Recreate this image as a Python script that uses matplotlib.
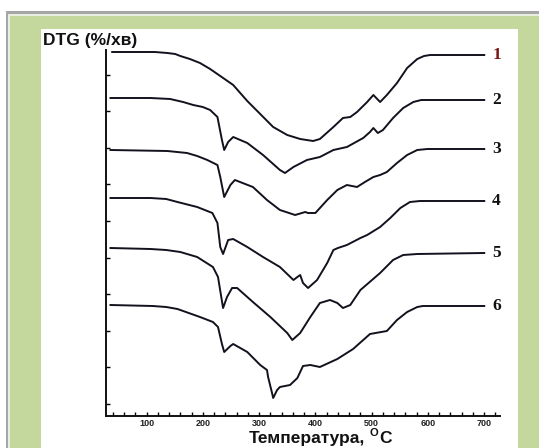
import numpy as np
import matplotlib
matplotlib.use("Agg")
import matplotlib.pyplot as plt
from matplotlib.patches import Rectangle

# temperatures (deg C) and DTG values (arbitrary units, curves stacked)
t1 = [39, 115, 137, 151, 160, 177, 195, 213, 231, 254, 279, 302, 325, 350, 373, 396, 408, 432,
      449, 462, 474, 492, 503, 515, 527, 545, 563, 581, 593, 604, 700]
dtg1 = [364, 364, 363, 362, 360, 357, 353, 347, 340, 331, 315, 302, 289, 281, 277, 275, 277,
        289, 298, 299, 304, 314, 321, 314, 321, 333, 348, 357, 360, 361, 361]

t2 = [36, 107, 142, 165, 183, 200, 213, 226, 234, 238, 245, 254, 279, 307, 337, 346, 361, 385,
      408, 432, 456, 485, 497, 503, 511, 520, 538, 556, 574, 588, 599, 700]
dtg2 = [318, 318, 317, 314, 311, 309, 306, 299, 276, 266, 274, 279, 273, 261, 246, 243, 249,
        256, 259, 266, 269, 278, 284, 288, 283, 286, 298, 308, 314, 316, 316, 316]

t3 = [36, 137, 172, 190, 208, 226, 231, 238, 249, 257, 289, 314, 337, 364, 382, 387, 400, 421,
      439, 456, 474, 488, 503, 515, 527, 545, 563, 581, 599, 700]
dtg3 = [266, 265, 263, 260, 256, 251, 239, 219, 231, 236, 229, 216, 206, 201, 204, 203, 203,
        216, 226, 231, 229, 234, 239, 241, 244, 253, 261, 266, 267, 267]

t4 = [36, 107, 135, 155, 190, 217, 226, 231, 236, 245, 254, 279, 307, 337, 361, 368, 373, 378,
      387, 403, 421, 432, 440, 456, 480, 492, 515, 533, 551, 568, 586, 700]
dtg4 = [218, 218, 217, 214, 209, 203, 193, 169, 162, 176, 177, 169, 159, 149, 136, 139, 141,
        133, 128, 136, 153, 166, 168, 171, 178, 181, 189, 198, 208, 214, 215, 215]

t5 = [36, 107, 135, 160, 190, 218, 227, 236, 243, 252, 261, 289, 320, 350, 359, 373, 391, 408,
      426, 439, 449, 462, 480, 515, 538, 556, 581, 700]
dtg5 = [168, 167, 166, 164, 159, 149, 139, 108, 119, 128, 128, 114, 99, 83, 76, 83, 99, 113,
        116, 113, 108, 111, 126, 143, 156, 161, 162, 163]

t6 = [36, 111, 135, 155, 195, 218, 227, 234, 238, 249, 254, 279, 302, 314, 316, 323, 325, 332,
      337, 355, 368, 378, 391, 408, 439, 467, 497, 527, 545, 563, 581, 591, 700]
dtg6 = [111, 110, 109, 107, 99, 94, 89, 72, 64, 70, 72, 64, 51, 46, 39, 23, 18, 26,
        29, 31, 38, 50, 51, 49, 57, 67, 82, 85, 96, 104, 109, 110, 110]

temps = [t1, t2, t3, t4, t5, t6]
curves = [dtg1, dtg2, dtg3, dtg4, dtg5, dtg6]
labels = ["1", "2", "3", "4", "5", "6"]
label_colors = ["#7a1414", "#111111", "#111111", "#111111", "#111111", "#111111"]

x_major = [100, 200, 300, 400, 500, 600, 700]

W, H = 539, 448
fig = plt.figure(figsize=(W / 100, H / 100), dpi=100)
fig.patch.set_facecolor("white")

# frame decoration: grey border, green band, white panel
fig.patches.append(Rectangle((6 / W, 0), (W - 6) / W, 1 - 11 / H, transform=fig.transFigure,
                             facecolor="#a6a6a6", edgecolor="none", zorder=-3))
fig.patches.append(Rectangle((8 / W, 0), (W - 8) / W, 1 - 14 / H, transform=fig.transFigure,
                             facecolor="#e8efe0", edgecolor="none", zorder=-2.5))
fig.patches.append(Rectangle((10 / W, 0), (W - 10) / W, 1 - 16 / H, transform=fig.transFigure,
                             facecolor="#c4d79d", edgecolor="none", zorder=-2))
fig.patches.append(Rectangle((41 / W, 0), (518 - 41) / W, 1 - 29 / H, transform=fig.transFigure,
                             facecolor="white", edgecolor="none", zorder=-1))

ax = fig.add_axes([106 / W, 1 - 416 / H, (500 - 106) / W, (416 - 50) / H])
ax.set_facecolor("none")

for t, d in zip(temps, curves):
    ax.plot(t, d, color="#12121e", lw=1.4, solid_joinstyle="round")

for t, d, lab, c in zip(temps, curves, labels, label_colors):
    ax.text(t[-1] + 14, d[-1], lab, ha="left", va="center", fontsize=12.5,
            fontweight="bold", family="Liberation Serif", color=c, clip_on=False)

ax.set_xlim(28, 728)
ax.set_ylim(0, 366)

for s in ["top", "right"]:
    ax.spines[s].set_visible(False)
for s in ["left", "bottom"]:
    ax.spines[s].set_linewidth(1.4)
    ax.spines[s].set_color("#111111")

ax.set_xticks(x_major)
ax.set_xticks(np.arange(40, 721, 20), minor=True)
ax.set_xticklabels([str(v) for v in x_major], fontsize=6.5, fontweight="bold",
                   family="Liberation Sans", color="#222222")
ax.set_yticks(np.arange(12, 366, 36.6))
ax.set_yticklabels([])
ax.tick_params(axis="x", which="both", direction="in", length=3, width=1, pad=2)
ax.tick_params(axis="y", which="both", direction="in", length=3, width=1)

fig.text(43 / W, 1 - 41 / H, "DTG (%/хв)", ha="left", va="center", fontsize=12.5,
         fontweight="bold", family="Liberation Sans", color="#111111")

# x axis title, with the superscript "O" drawn as its own small text
fig.text(249 / W, 1 - 446 / H, "Температура,", ha="left", va="bottom",
         fontsize=12.5, fontweight="bold", family="Liberation Sans", color="#111111")
fig.text(392 / W, 1 - 446 / H, "C", ha="right", va="bottom",
         fontsize=12.5, fontweight="bold", family="Liberation Sans", color="#111111")
fig.text(374 / W, 1 - 438 / H, "O", ha="center", va="bottom",
         fontsize=8, fontweight="bold", family="Liberation Sans", color="#111111")

fig.savefig("out.png", dpi=100)
